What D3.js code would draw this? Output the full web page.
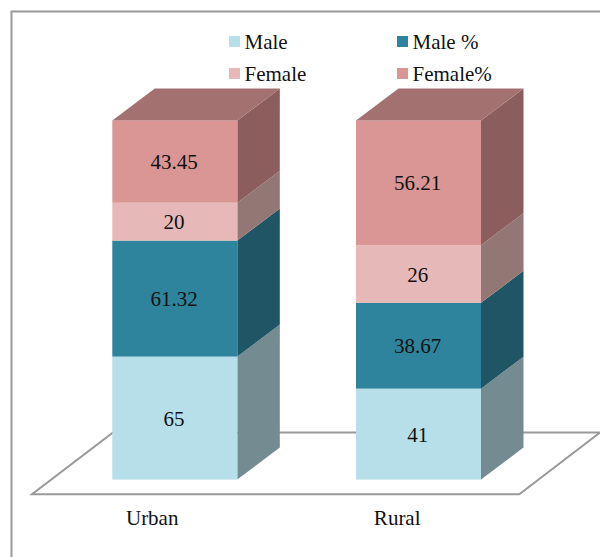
<!DOCTYPE html>
<html>
<head>
<meta charset="utf-8">
<script src="https://cdn.jsdelivr.net/npm/d3@7"></script>
<style>
  html, body { margin: 0; padding: 0; background: #fff; }
  svg { display: block; }
  text { font-family: "Liberation Serif", serif; fill: #111; }
</style>
</head>
<body>
<svg id="chart" width="600" height="557"></svg>
<script>
const categories = ["Urban", "Rural"];
const seriesNames = ["Male", "Male %", "Female", "Female%"];
const male = [65, 41];
const malePct = [61.32, 38.67];
const female = [20, 26];
const femalePct = [43.45, 56.21];
const seriesValues = [male, malePct, female, femalePct];

const frontColors = ["#b7dfe9", "#2e849c", "#e6b9b8", "#d99694"];
const sideColors = ["#748b91", "#1f5564", "#937775", "#8b5e5d"];
const topColor = "#a37170";
const lineColor = "#999999";
const fontSize = 21;

const svg = d3.select("#chart");
const depth = { x: 42.5, y: 32 };

const rows = categories.map((c, i) => {
  const row = { category: c };
  seriesNames.forEach((s, j) => { row[s] = seriesValues[j][i]; });
  return row;
});

// Each column is stacked to the same full height
const stacked = d3.stack().keys(seriesNames).offset(d3.stackOffsetExpand)(rows);

const x = d3.scaleBand().domain(categories).range([112.3, 481]).paddingInner(0.487).paddingOuter(0);
const y = d3.scaleLinear().domain([0, 1]).range([479.6, 120.5]);
const labelX = d3.scalePoint().domain(categories).range([151.7, 396.7]);

// Chart frame, open on the right and at the bottom
svg.append("path")
  .attr("d", "M11.5,557V11.5H600")
  .attr("fill", "none")
  .attr("stroke", lineColor)
  .attr("stroke-width", 2);

// Floor of the 3D plot area
svg.append("path")
  .attr("d", "M32,494.3H519.3L600,432.5H113Z")
  .attr("fill", "#fff")
  .attr("stroke", lineColor)
  .attr("stroke-width", 2);

const layers = svg.append("g").selectAll("g")
  .data(stacked)
  .join("g");

// Right-hand faces
layers.selectAll("path.side")
  .data((s, i) => s.map(d => ({ d, i })))
  .join("path")
  .attr("class", "side")
  .attr("d", ({ d }) => {
    const xr = x(d.data.category) + x.bandwidth();
    return `M${xr},${y(d[0])}L${xr + depth.x},${y(d[0]) - depth.y}L${xr + depth.x},${y(d[1]) - depth.y}L${xr},${y(d[1])}Z`;
  })
  .attr("fill", ({ i }) => sideColors[i]);

// Front faces
layers.selectAll("rect")
  .data((s, i) => s.map(d => ({ d, i })))
  .join("rect")
  .attr("x", ({ d }) => x(d.data.category))
  .attr("y", ({ d }) => y(d[1]))
  .attr("width", x.bandwidth())
  .attr("height", ({ d }) => y(d[0]) - y(d[1]))
  .attr("fill", ({ i }) => frontColors[i]);

// Top face of each column
svg.append("g").selectAll("path")
  .data(rows)
  .join("path")
  .attr("d", d => {
    const x0 = x(d.category), x1 = x0 + x.bandwidth(), yt = y(1);
    return `M${x0},${yt}L${x0 + depth.x},${yt - depth.y}L${x1 + depth.x},${yt - depth.y}L${x1},${yt}Z`;
  })
  .attr("fill", topColor);

// Value labels centred on each segment
layers.selectAll("text")
  .data((s, i) => s.map(d => ({ d, value: d.data[seriesNames[i]] })))
  .join("text")
  .attr("x", ({ d }) => x(d.data.category) + x.bandwidth() / 2 - 0.8)
  .attr("y", ({ d }) => (y(d[0]) + y(d[1])) / 2 + 0.3)
  .attr("dy", "0.35em")
  .attr("text-anchor", "middle")
  .attr("font-size", fontSize)
  .text(({ value }) => value);

// Category axis
const axis = svg.append("g")
  .attr("transform", "translate(0,505.5)")
  .call(d3.axisBottom(labelX).tickSize(0).tickPadding(0));
axis.select(".domain").remove();
axis.selectAll("text")
  .attr("font-size", fontSize)
  .attr("font-family", "Liberation Serif, serif")
  .attr("fill", "#111")
  .attr("dy", "0.95em");

// Legend, two rows and two columns
const legendCol = d3.scalePoint().domain([0, 1]).range([229, 397]);
const legendRow = d3.scalePoint().domain([0, 1]).range([36, 68]);
const legend = svg.append("g").selectAll("g")
  .data(seriesNames)
  .join("g")
  .attr("transform", (d, i) => `translate(${legendCol(i % 2)},${legendRow(Math.floor(i / 2))})`);
legend.append("rect")
  .attr("width", 11)
  .attr("height", 11)
  .attr("fill", (d, i) => frontColors[i]);
legend.append("text")
  .attr("x", 15.5)
  .attr("y", 12.7)
  .attr("font-size", fontSize)
  .text(d => d);
</script>
</body>
</html>
